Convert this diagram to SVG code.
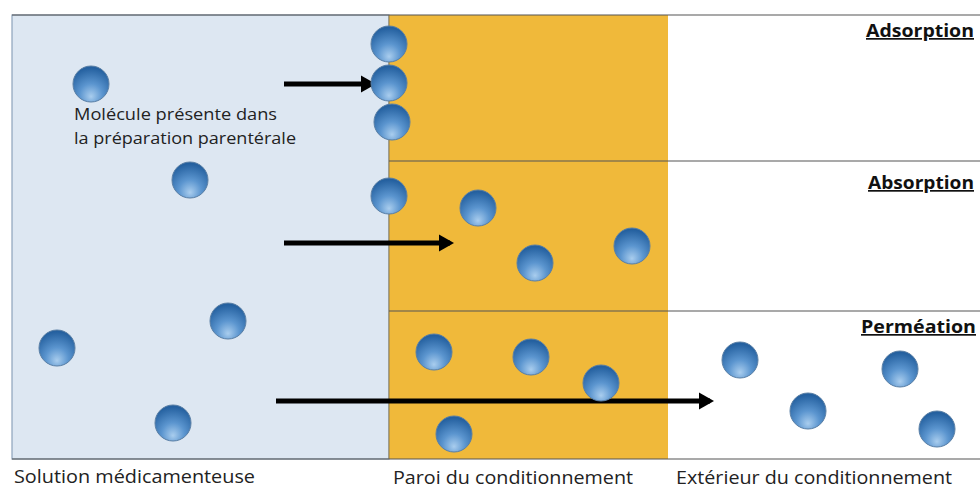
<svg xmlns="http://www.w3.org/2000/svg" width="980" height="492" viewBox="0 0 980 492">
<defs>
<radialGradient id="mol" cx="50%" cy="75%" r="70%" fx="50%" fy="85%">
<stop offset="0" stop-color="#a9cdee"/>
<stop offset="0.45" stop-color="#5b95cf"/>
<stop offset="1" stop-color="#24609f"/>
</radialGradient>
<marker id="ah" markerWidth="4" markerHeight="4" refX="2.2" refY="2" orient="auto" markerUnits="strokeWidth">
<path d="M0,0.3 L3,2 L0,3.7 Z" fill="#000"/>
</marker>
<style>
.mol{fill:url(#mol);stroke:#5a7fa5;stroke-width:1}
.arr{stroke:#000;stroke-width:5;fill:none;marker-end:url(#ah)}
.lbl{font-family:"Open Sans","Liberation Sans",sans-serif;font-size:18px;fill:#222}
.hd{font-family:"Open Sans","Liberation Sans",sans-serif;font-size:17px;font-weight:bold;fill:#111;text-decoration:underline;text-anchor:end}
.sep{stroke:#555;stroke-width:1.2}
</style>
</defs>
<rect width="980" height="492" fill="#fff"/>
<g id="zones">
<rect id="solution" x="12" y="15" width="377" height="444" fill="#dde7f2" stroke="#8ea3bb" stroke-width="1.2"/>
<rect id="paroi" x="389" y="15" width="279" height="444" fill="#f0b93a"/>
<line x1="389" y1="15" x2="389" y2="459" stroke="#8a7a50" stroke-width="1"/>
<line class="sep" x1="12" y1="15" x2="980" y2="15"/>
<line class="sep" x1="389" y1="161" x2="980" y2="161"/>
<line class="sep" x1="389" y1="311" x2="980" y2="311"/>
<line class="sep" x1="12" y1="459" x2="980" y2="459"/>
</g>
<g id="connectors">
<line class="arr" x1="284" y1="84" x2="372" y2="84"/>
<line class="arr" x1="284" y1="243" x2="450" y2="243"/>
<line class="arr" x1="276" y1="401" x2="710" y2="401"/>
</g>
<g id="molecules">
<circle class="mol" cx="91" cy="84" r="18"/>
<circle class="mol" cx="389" cy="44" r="18"/>
<circle class="mol" cx="389" cy="83" r="18"/>
<circle class="mol" cx="392" cy="122" r="18"/>
<circle class="mol" cx="190" cy="180" r="18"/>
<circle class="mol" cx="389" cy="196" r="18"/>
<circle class="mol" cx="478" cy="208" r="18"/>
<circle class="mol" cx="535" cy="263" r="18"/>
<circle class="mol" cx="632" cy="246" r="18"/>
<circle class="mol" cx="228" cy="321" r="18"/>
<circle class="mol" cx="57" cy="348" r="18"/>
<circle class="mol" cx="173" cy="423" r="18"/>
<circle class="mol" cx="434" cy="352" r="18"/>
<circle class="mol" cx="531" cy="357" r="18"/>
<circle class="mol" cx="601" cy="383" r="18"/>
<circle class="mol" cx="454" cy="434" r="18"/>
<circle class="mol" cx="740" cy="360" r="18"/>
<circle class="mol" cx="900" cy="369" r="18"/>
<circle class="mol" cx="808" cy="411" r="18"/>
<circle class="mol" cx="937" cy="429" r="18"/>
</g>
<g id="labels">
<text class="lbl" x="74" y="120" style="font-size:16px" textLength="203" lengthAdjust="spacingAndGlyphs">Molécule présente dans</text>
<text class="lbl" x="74" y="144" style="font-size:16px" textLength="222" lengthAdjust="spacingAndGlyphs">la préparation parentérale</text>
<text class="hd" x="974" y="37" textLength="108" lengthAdjust="spacingAndGlyphs">Adsorption</text>
<text class="hd" x="974" y="189" textLength="106" lengthAdjust="spacingAndGlyphs">Absorption</text>
<text class="hd" x="976" y="333" textLength="115" lengthAdjust="spacingAndGlyphs">Perméation</text>
<text class="lbl" x="14" y="483" textLength="241" lengthAdjust="spacingAndGlyphs">Solution médicamenteuse</text>
<text class="lbl" x="393" y="484" textLength="240" lengthAdjust="spacingAndGlyphs">Paroi du conditionnement</text>
<text class="lbl" x="676" y="484" textLength="276" lengthAdjust="spacingAndGlyphs">Extérieur du conditionnement</text>
</g>
</svg>
